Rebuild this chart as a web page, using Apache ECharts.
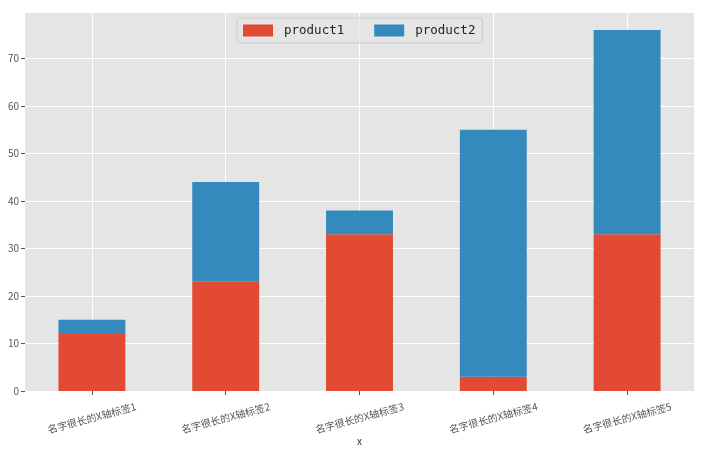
<!DOCTYPE html>
<html>
<head>
<meta charset="utf-8">
<script src="https://cdn.jsdelivr.net/npm/echarts@6/dist/echarts.min.js"></script>
<style>
  html, body { margin: 0; padding: 0; background: #fff; }
  #main { width: 704px; height: 453px; }
</style>
</head>
<body>
<div id="main"></div>
<script>
// 类目
var categories = ['名字很长的X轴标签1', '名字很长的X轴标签2', '名字很长的X轴标签3', '名字很长的X轴标签4', '名字很长的X轴标签5'];
// 两个产品的数值
var product1 = [12, 23, 33, 3, 33];
var product2 = [3, 21, 5, 52, 43];
// y轴刻度
var yTicks = [0, 10, 20, 30, 40, 50, 60, 70];

var FONT = '"Noto Sans CJK SC", "DejaVu Sans", sans-serif';

var chart = echarts.init(document.getElementById('main'), null, { renderer: 'canvas' });

var option = {
  backgroundColor: '#ffffff',
  animation: false,
  color: ['#E24A33', '#348ABD'],
  grid: {
    left: 25,
    right: 10,
    top: 12,
    bottom: 62,
    outerBoundsMode: 'none',
    containLabel: false,
    show: true,
    backgroundColor: '#E5E5E5',
    borderWidth: 0
  },
  legend: {
    left: 237,
    top: 18,
    itemWidth: 30,
    itemHeight: 12,
    itemGap: 30,
    padding: [6, 7, 6, 6],
    backgroundColor: 'rgba(229,229,229,0.8)',
    borderColor: '#CCCCCC',
    borderWidth: 1,
    borderRadius: 3,
    icon: 'rect',
    textStyle: {
      fontFamily: '"DejaVu Sans Mono", monospace',
      fontSize: 12.5,
      color: '#222',
      padding: [0, 0, 0, 6]
    },
    data: ['product1', 'product2']
  },
  xAxis: {
    type: 'category',
    data: categories,
    name: 'x',
    nameLocation: 'middle',
    nameGap: 45,
    nameMoveOverlap: false,
    nameTextStyle: { fontFamily: FONT, fontSize: 10, color: '#333' },
    axisLine: { show: false },
    axisTick: { show: true, alignWithLabel: true, length: 4, lineStyle: { color: '#555' } },
    splitLine: { show: true, alignWithLabel: true, lineStyle: { color: '#ffffff', width: 1 } },
    axisLabel: {
      rotate: 15,
      align: 'center',
      verticalAlign: 'middle',
      margin: 27,
      fontFamily: FONT,
      fontSize: 10,
      color: '#555'
    }
  },
  yAxis: {
    type: 'value',
    min: yTicks[0],
    max: 79.8,
    interval: 10,
    axisLine: { show: false },
    axisTick: { show: true, length: 4, lineStyle: { color: '#555' } },
    splitLine: { show: true, lineStyle: { color: '#ffffff', width: 1 } },
    axisLabel: {
      margin: 6,
      fontFamily: FONT,
      fontSize: 10,
      color: '#555',
      showMaxLabel: false
    }
  },
  series: [
    {
      name: 'product1',
      type: 'bar',
      stack: 'total',
      barWidth: '50%',
      data: product1
    },
    {
      name: 'product2',
      type: 'bar',
      stack: 'total',
      barWidth: '50%',
      data: product2
    }
  ]
};

chart.setOption(option);
</script>
</body>
</html>
